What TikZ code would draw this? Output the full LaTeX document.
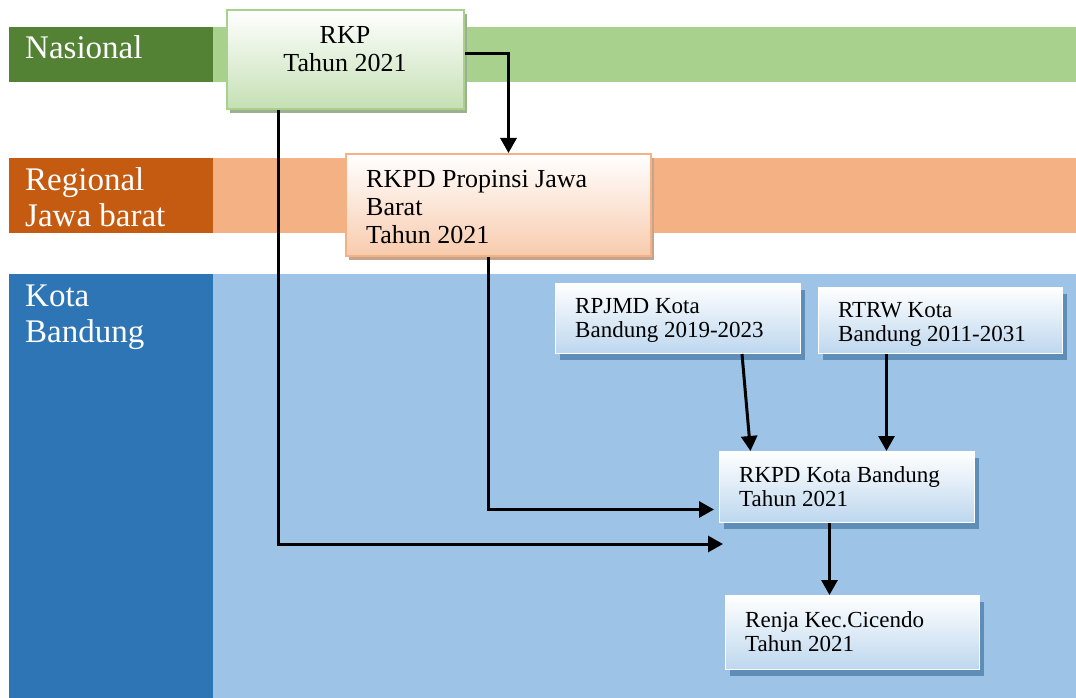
\documentclass[tikz,border=0pt]{standalone}
\usepackage{fontspec}
\setmainfont{Liberation Serif}
\usetikzlibrary{arrows.meta,shadows}
\definecolor{dgreen}{HTML}{548235}
\definecolor{lgreen}{HTML}{A9D18E}
\definecolor{dorange}{HTML}{C55A11}
\definecolor{lorange}{HTML}{F4B183}
\definecolor{dblue}{HTML}{2E75B6}
\definecolor{lblue}{HTML}{9DC3E6}
\definecolor{gbot}{HTML}{C5E0B4}
\definecolor{obot}{HTML}{F8CBAD}
\definecolor{bbot}{HTML}{BDD7EE}
\definecolor{gshad}{HTML}{9DAF8F}
\definecolor{oshad}{HTML}{C4A48C}
\definecolor{bshad}{HTML}{5E8DB8}
\tikzset{
  lvl/.style={text=white, font=\fontsize{33}{36}\selectfont, align=left, anchor=north west, inner sep=0pt},
  boxbase/.style={rectangle, inner sep=0pt, anchor=north west},
  gbox/.style={boxbase, draw=lgreen, line width=2pt, top color=white, bottom color=gbot,
    general shadow={fill=gshad, shadow xshift=3pt, shadow yshift=-4pt}},
  obox/.style={boxbase, draw=lorange, line width=2pt, top color=white, bottom color=obot,
    general shadow={fill=oshad, shadow xshift=3pt, shadow yshift=-4pt}},
  bbox/.style={boxbase, draw=white, line width=1pt, top color=white, bottom color=bbot,
    general shadow={fill=bshad, shadow xshift=4pt, shadow yshift=-6pt}},
  bigtxt/.style={font=\fontsize{26}{28}\selectfont, inner sep=0pt, anchor=north west, align=left},
  smtxt/.style={font=\fontsize{23}{24.5}\selectfont, inner sep=0pt, anchor=north west, align=left},
  arr/.style={line width=3pt, -{Triangle[length=15pt,width=16pt]}},
}
\begin{document}
\begin{tikzpicture}[x=1pt,y=-1pt]
\useasboundingbox (0,0) rectangle (1076,698);
% bands
\fill[lgreen] (213,27) rectangle (1076,82);
\fill[dgreen] (9,27) rectangle (213,82);
\fill[lorange] (213,158) rectangle (1076,233);
\fill[dorange] (9,158) rectangle (213,233);
\fill[lblue] (213,274) rectangle (1076,698);
\fill[dblue] (9,274) rectangle (213,698);
\node[lvl] (nas) at (25,35) {Nasional};
\node[lvl] (reg) at (25,167) {Regional\\Jawa barat};
\node[lvl] (kota) at (25,285) {Kota\\Bandung};
% boxes
\node[gbox, minimum width=237pt, minimum height=99pt] (rkp) at (226,9) {};
\node[bigtxt, anchor=north, align=center] (rkpt) at (345,26) {RKP\\Tahun 2021};
\node[obox, minimum width=305pt, minimum height=102pt] (prop) at (345,153) {};
\node[bigtxt] (propt) at (366,170) {RKPD Propinsi Jawa\\Barat\\Tahun 2021};
\node[bbox, minimum width=245pt, minimum height=70pt] (rpj) at (555,283) {};
\node[smtxt] (rpjt) at (575,298) {RPJMD Kota\\Bandung 2019-2023};
\node[bbox, minimum width=244pt, minimum height=66pt] (rtrw) at (818,287) {};
\node[smtxt] (rtrwt) at (838,302) {RTRW Kota\\Bandung 2011-2031};
\node[bbox, minimum width=255pt, minimum height=71pt] (kb) at (719,451) {};
\node[smtxt] (kbt) at (739,466) {RKPD Kota Bandung\\Tahun 2021};
\node[bbox, minimum width=254pt, minimum height=74pt] (ren) at (725,595) {};
\node[smtxt] (rent) at (745,611) {Renja Kec.Cicendo\\Tahun 2021};
% connectors
\coordinate (free) at (723,544);
\draw[arr] ([yshift=6pt]rkp.east) -| ([xshift=10pt]prop.north);
\draw[arr] ([xshift=-67pt]rkp.south) |- (free);
\draw[arr, shorten >=5pt] ([xshift=-10pt]prop.south) |- ([yshift=-22.5pt]kb.west);
\draw[arr] ([xshift=64pt]rpj.south) -- ([xshift=-96.5pt]kb.north);
\draw[arr] ([xshift=-54pt]rtrw.south) -- ([xshift=39.5pt]kb.north);
\draw[arr] ([xshift=-17.5pt]kb.south) -- ([xshift=-23pt]ren.north);
\end{tikzpicture}
\end{document}
